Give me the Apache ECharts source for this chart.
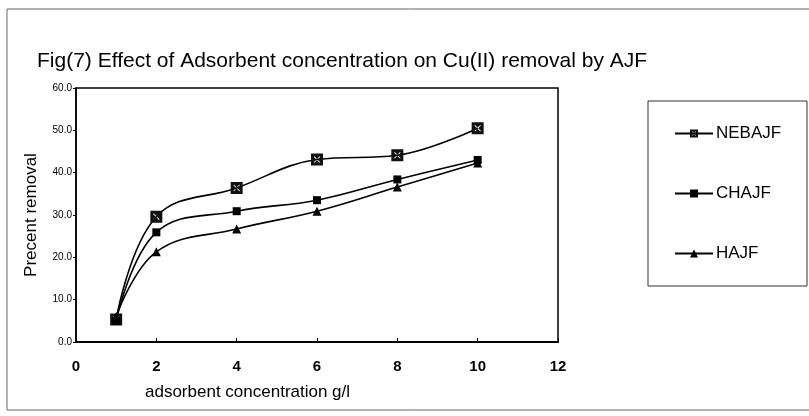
<!DOCTYPE html>
<html>
<head>
<meta charset="utf-8">
<script src="https://cdn.jsdelivr.net/npm/echarts@6/dist/echarts.min.js"></script>
<style>
html,body{margin:0;padding:0;background:#fff;}
#main{width:809px;height:416px;}
</style>
</head>
<body>
<div id="main"></div>
<script>
// data
var concentration = [1, 2, 4, 6, 8, 10];
var nebajf = [5.3, 29.6, 36.4, 43.1, 44.1, 50.5];
var chajf  = [5.0, 25.9, 30.9, 33.5, 38.4, 43.0];
var hajf   = [6.0, 21.3, 26.7, 30.9, 36.6, 42.3];
var seriesNames = ['NEBAJF', 'CHAJF', 'HAJF'];

var font = '"Liberation Sans", Arial, sans-serif';
// dark square with a thin x cut out of it
var boxX = 'path://M0 0L10 0L10 10L0 10Z M4.5 5L2.3 7.2L2.8 7.7L5 5.5L7.2 7.7L7.7 7.2L5.5 5L7.7 2.8L7.2 2.3L5 4.5L2.8 2.3L2.3 2.8Z';

function pairs(ys){
	var out = [];
	for (var i = 0; i < concentration.length; i++) out.push([concentration[i], ys[i]]);
	return out;
}

var chart = echarts.init(document.getElementById('main'));

var option = {
	backgroundColor: '#fff',
	animation: false,
	textStyle: {fontFamily: font, color: '#000'},
	grid: {
		left: 76, right: 251, top: 88, bottom: 74,
		show: true, borderColor: '#000', borderWidth: 1.5
	},
	legend: {
		orient: 'vertical',
		left: 669, top: 120,
		itemWidth: 38, itemHeight: 10, itemGap: 43,
		textStyle: {fontFamily: font, fontSize: 17, color: '#000', padding: [0, 0, 0, -2]},
		data: seriesNames
	},
	xAxis: {
		type: 'value', min: 0, max: 12, interval: 2,
		axisLine: {lineStyle: {color: '#000', width: 2}},
		axisTick: {inside: true, length: 4, lineStyle: {color: '#000'}},
		splitLine: {show: false},
		axisLabel: {fontFamily: font, fontSize: 15, fontWeight: 'bold', color: '#000', margin: 17}
	},
	yAxis: {
		type: 'value', min: 0, max: 60, interval: 10,
		name: 'Precent removal', nameLocation: 'middle', nameGap: 36,
		nameTextStyle: {fontFamily: font, fontSize: 17, color: '#000'},
		axisLine: {show: true, lineStyle: {color: '#000', width: 1.5}},
		axisTick: {show: true, length: 3, lineStyle: {color: '#000'}},
		splitLine: {show: false},
		axisLabel: {
			fontFamily: font, fontSize: 10, color: '#000', margin: 4,
			formatter: function(v){ return v.toFixed(1); }
		}
	},
	series: [{
		name: 'NEBAJF', type: 'line', smooth: 0.4,
		data: pairs(nebajf),
		symbol: boxX, symbolSize: 12,
		lineStyle: {color: '#000', width: 1.6},
		itemStyle: {color: '#111'}
	}, {
		name: 'CHAJF', type: 'line', smooth: 0.4,
		data: pairs(chajf),
		symbol: 'rect', symbolSize: 8,
		lineStyle: {color: '#000', width: 1.6},
		itemStyle: {color: '#000'}
	}, {
		name: 'HAJF', type: 'line', smooth: 0.4,
		data: pairs(hajf),
		symbol: 'triangle', symbolSize: 9,
		lineStyle: {color: '#000', width: 1.6},
		itemStyle: {color: '#000'}
	}],
	graphic: [{
		type: 'rect', silent: true, z: -1,
		shape: {x: 7, y: 9, width: 830, height: 401},
		style: {fill: 'none', stroke: '#666', lineWidth: 1}
	}, {
		type: 'rect', silent: true,
		shape: {x: 648, y: 101, width: 159, height: 185},
		style: {fill: 'none', stroke: '#333', lineWidth: 1}
	}, {
		type: 'text', left: 37, top: 51,
		style: {text: 'Fig(7) Effect of Adsorbent concentration on Cu(II) removal by AJF',
			fontFamily: font, fontSize: 21, fill: '#000'}
	}, {
		type: 'text', left: 145, top: 384,
		style: {text: 'adsorbent concentration g/l', fontFamily: font, fontSize: 17, fill: '#000'}
	}]
};

chart.setOption(option);
</script>
</body>
</html>
